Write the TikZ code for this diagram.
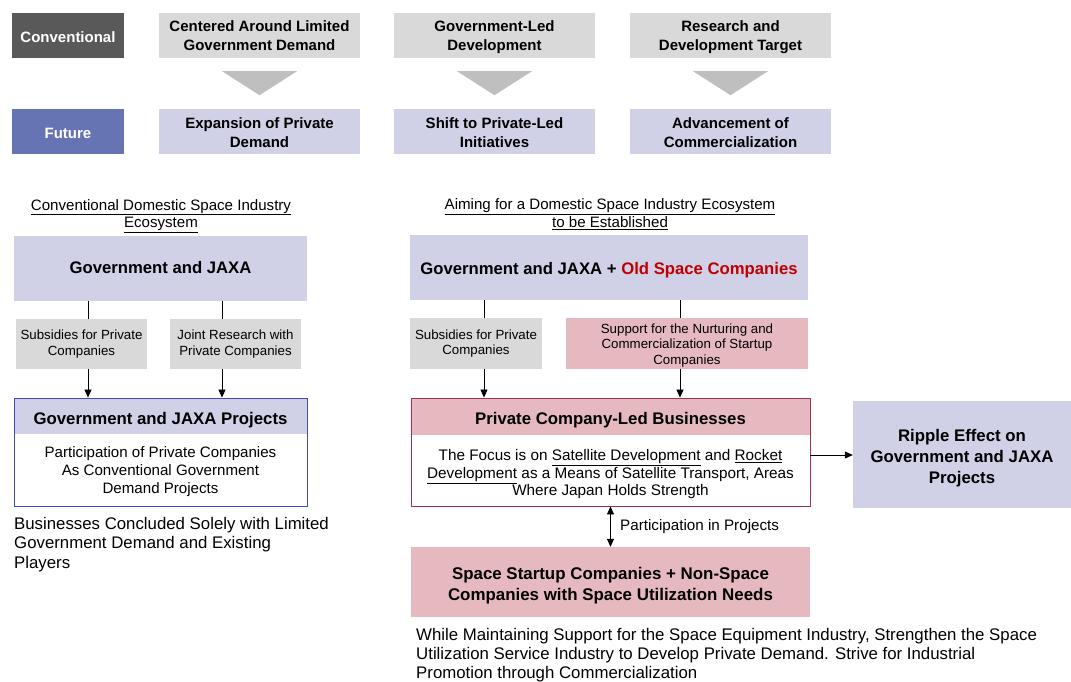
\documentclass[tikz,border=0pt]{standalone}
\usepackage{fontspec}
\setmainfont{Liberation Sans}
\usetikzlibrary{arrows.meta,calc}
\definecolor{lav}{HTML}{D0D0E6}
\definecolor{gry}{HTML}{D9D9D9}
\definecolor{pnk}{HTML}{E6B9C1}
\definecolor{dgry}{HTML}{595959}
\definecolor{fblue}{HTML}{6674B4}
\definecolor{bblue}{HTML}{3D4DB7}
\definecolor{bred}{HTML}{A0304F}
\definecolor{tred}{HTML}{C00000}
\definecolor{tri}{HTML}{BFBFBF}
\begin{document}
\begin{tikzpicture}[x=1pt,y=-1pt,
  box/.style={inner sep=0pt, align=center, anchor=center},
  topbox/.style={box, minimum width=201pt, minimum height=45pt},
  toptext/.style={box, font=\fontsize{15}{19}\selectfont\bfseries},
  labbox/.style={box, minimum width=112pt, minimum height=45pt},
  labtext/.style={box, font=\fontsize{15}{19}\selectfont\bfseries, text=white},
  smallbox/.style={box, font=\fontsize{13.3}{15.8}\selectfont, fill=gry},
  head/.style={box, font=\fontsize{15.1}{17.5}\selectfont},
  bigbold/.style={box, font=\fontsize{16.7}{21}\selectfont\bfseries},
  conn/.style={line width=0.8pt},
  arr/.style={conn, -{Triangle[length=8pt,width=7pt]}},
  darr/.style={conn, {Triangle[length=8pt,width=7pt]}-{Triangle[length=8pt,width=7pt]}},
  tria/.style={fill=tri},
]
\useasboundingbox (0,0) rectangle (1071,681);
% top section
\node[labbox, fill=dgry] (conv) at (68,35.5) {};
\node[labtext] (convt) at (68,37) {Conventional};
\node[labbox, fill=fblue] (fut) at (68,131.5) {};
\node[labtext] (futt) at (68,133) {Future};
\node[topbox, fill=gry] (g1) at (259.5,35.5) {};
\node[topbox, fill=gry] (g2) at (494.5,35.5) {};
\node[topbox, fill=gry] (g3) at (730.5,35.5) {};
\node[topbox, fill=lav] (f1) at (259.5,131.5) {};
\node[topbox, fill=lav] (f2) at (494.5,131.5) {};
\node[topbox, fill=lav] (f3) at (730.5,131.5) {};
\node[toptext] (g1t) at (259.5,36) {Centered Around Limited\\Government Demand};
\node[toptext] (g2t) at (494.5,37.5) {Government-Led\\Development};
\node[toptext] (g3t) at (730.5,37.5) {Research and\\Development Target};
\node[toptext] (f1t) at (259.5,132.5) {Expansion of Private\\Demand};
\node[toptext] (f2t) at (494.5,132.5) {Shift to Private-Led\\Initiatives};
\node[toptext] (f3t) at (730.5,132.5) {Advancement of\\Commercialization};
\foreach \g in {g1,g2,g3}{
  \fill[tria] ($(\g.south)+(-37.5,13)$) -- ($(\g.south)+(37.5,13)$) -- ($(\g.south)+(0,37)$) -- cycle;
}
% left ecosystem
\node[head] (hl) at (161,216) {\underline{Conventional Domestic Space Industry}\\\underline{Ecosystem}};
\node[bigbold, fill=lav, minimum width=293pt, minimum height=65pt] (govL) at (160.5,268) {Government and JAXA};
\node[smallbox, minimum width=131pt, minimum height=50pt] (subL) at (81.5,344) {Subsidies for Private\\Companies};
\node[smallbox, minimum width=131pt, minimum height=50pt] (jrL) at (235.5,344) {Joint Research with\\Private Companies};
\node[box, fill=lav, minimum width=293pt, minimum height=36pt] (projLh) at (160.5,416) {};
\node[box, font=\fontsize{16.8}{21}\selectfont\bfseries] (projLt) at (160.5,420) {Government and JAXA Projects};
\node[box, draw=bblue, line width=0.9pt, minimum width=293pt, minimum height=108pt] (projL) at (160.5,452) {};
\node[box, font=\fontsize{15.1}{18}\selectfont] (projLb) at (160.5,472) {Participation of Private Companies\\As Conventional Government\\Demand Projects};
\node[inner sep=0pt, anchor=north west, align=left, font=\fontsize{16.8}{19.5}\selectfont] (concL) at (14,517) {Businesses Concluded Solely with Limited\\Government Demand and Existing\\Players};
\coordinate (xl1) at (88,0);
\coordinate (xl2) at (222,0);
\draw[conn] (govL.south -| xl1) -- (subL.north -| xl1);
\draw[conn] (govL.south -| xl2) -- (jrL.north -| xl2);
\draw[arr] (subL.south -| xl1) -- (projL.north -| xl1);
\draw[arr] (jrL.south -| xl2) -- (projL.north -| xl2);
% right ecosystem
\node[head] (hr) at (610,214) {\underline{Aiming for a Domestic Space Industry Ecosystem}\\\underline{to be Established}};
\node[bigbold, fill=lav, minimum width=398pt, minimum height=65pt] (govR) at (609,267.5) {};
\node[bigbold] (govRt) at (609,270) {Government and JAXA + \textcolor{tred}{Old Space Companies}};
\node[smallbox, minimum width=132pt, minimum height=51pt] (subR) at (476,343.5) {Subsidies for Private\\Companies};
\node[smallbox, fill=pnk, minimum width=242pt, minimum height=51pt] (supR) at (687,343.5) {};
\node[box, font=\fontsize{13.3}{15.5}\selectfont] (supRt) at (687,345.5) {Support for the Nurturing and\\Commercialization of Startup\\Companies};
\node[box, fill=pnk, minimum width=399pt, minimum height=37pt] (privh) at (610.5,416.5) {};
\node[box, font=\fontsize{16.8}{21}\selectfont\bfseries] (privt) at (610.5,420) {Private Company-Led Businesses};
\node[box, draw=bred, line width=0.9pt, minimum width=399pt, minimum height=108pt] (priv) at (610.5,452) {};
\node[box, font=\fontsize{15.3}{17.5}\selectfont] (privb) at (610.5,474.5) {The Focus is on \underline{Satellite Development} and \underline{Rocket}\\\underline{Development} as a Means of Satellite Transport, Areas\\Where Japan Holds Strength};
\node[box, fill=lav, minimum width=218pt, minimum height=107pt] (rip) at (962,454.5) {};
\node[box, font=\fontsize{16.8}{21}\selectfont\bfseries] (ript) at (962,458) {Ripple Effect on\\Government and JAXA\\Projects};
\node[box, fill=pnk, minimum width=399pt, minimum height=70pt] (start) at (610.5,582) {};
\node[box, font=\fontsize{16.9}{21.5}\selectfont\bfseries] (startt) at (610.5,585.5) {Space Startup Companies + Non-Space\\Companies with Space Utilization Needs};
\node[inner sep=0pt, anchor=west, font=\fontsize{15.2}{18}\selectfont] (partl) at (620,527) {Participation in Projects};
\node[inner sep=0pt, anchor=north west, align=left, font=\fontsize{16.8}{19}\selectfont] (concR) at (416,628.5) {While Maintaining Support for the Space Equipment Industry, Strengthen the Space\\Utilization Service Industry to Develop Private Demand. Strive for Industrial\\Promotion through Commercialization};
\coordinate (xr1) at (484,0);
\coordinate (xr2) at (680,0);
\coordinate (ay) at (0,455);
\draw[conn] (govR.south -| xr1) -- (subR.north -| xr1);
\draw[conn] (govR.south -| xr2) -- (supR.north -| xr2);
\draw[arr] (subR.south -| xr1) -- (priv.north -| xr1);
\draw[arr] (supR.south -| xr2) -- (priv.north -| xr2);
\draw[arr] (priv.east |- ay) -- (rip.west |- ay);
\draw[darr] (priv.south) -- (start.north);
\end{tikzpicture}
\end{document}
